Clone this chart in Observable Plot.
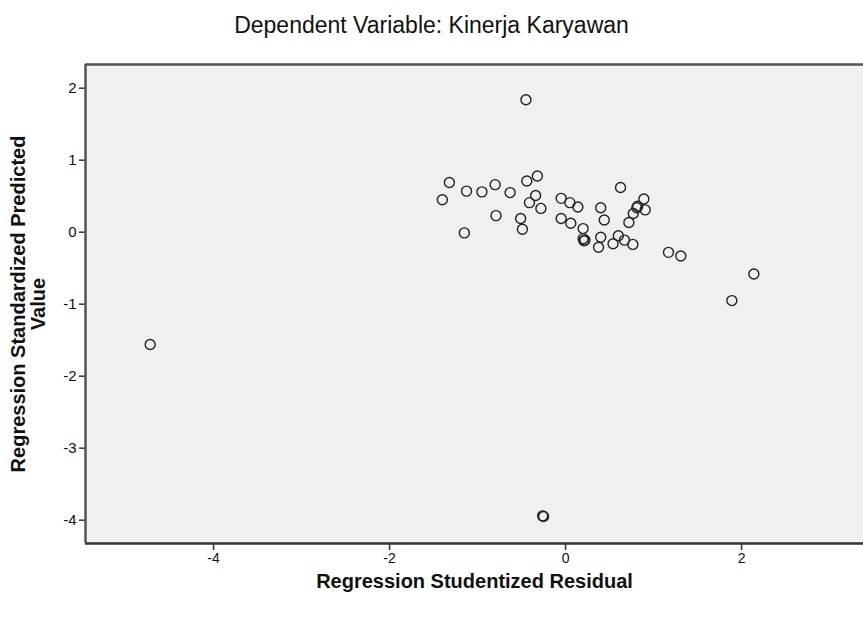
<!DOCTYPE html>
<html>
<head>
<meta charset="utf-8">
<script src="https://cdn.jsdelivr.net/npm/d3@7"></script>
<script src="https://cdn.jsdelivr.net/npm/@observablehq/plot@0.6"></script>
<style>
  html, body { margin: 0; padding: 0; background: #ffffff; }
  #title { width: 863px; height: 50px; line-height: 50px; text-align: center;
           font-family: "Liberation Sans", Arial, sans-serif;
           font-size: 23px; color: #111; }
  #chart svg { display: block; }
</style>
</head>
<body>
<div id="title"></div>
<div id="chart"></div>
<script>
const titleText = "Dependent Variable: Kinerja Karyawan";
const xLabel = "Regression Studentized Residual";
const yLabel = "Regression Standardized Predicted\nValue";

// Regression Studentized Residual
const residual = [-0.45, -1.32, -1.40, -1.125, -0.95, -0.80, -0.63, -0.44, -0.32, -0.34,
  -0.41, -0.28, -0.79, -0.51, -0.49, -1.15, -0.05, 0.05, 0.14, -0.05,
  0.06, 0.20, 0.20, 0.21, 0.22, 0.40, 0.44, 0.625, 0.40, 0.375,
  0.54, 0.60, 0.67, 0.765, 0.72, 0.77, 0.82, 0.81, 0.89, 0.905,
  1.17, 1.31, 2.14, 1.89, -4.72, -0.26, -0.25];
// Regression Standardized Predicted Value
const predicted = [1.84, 0.69, 0.45, 0.57, 0.56, 0.66, 0.55, 0.71, 0.78, 0.51,
  0.41, 0.33, 0.23, 0.19, 0.04, -0.01, 0.47, 0.41, 0.35, 0.19,
  0.125, 0.05, -0.09, -0.12, -0.11, 0.34, 0.17, 0.62, -0.07, -0.21,
  -0.16, -0.05, -0.11, -0.17, 0.135, 0.26, 0.36, 0.34, 0.46, 0.31,
  -0.28, -0.33, -0.58, -0.95, -1.56, -3.94, -3.95];

const xTicks = [-4, -2, 0, 2];
const yTicks = [-4, -3, -2, -1, 0, 1, 2];
const xDomain = [-5.455, 3.386];
const yDomain = [-4.324, 2.329];

document.getElementById("title").textContent = titleText;

const points = residual.map((r, i) => ({r, p: predicted[i]}));
const font = `"Liberation Sans", Arial, sans-serif`;
const fmt = d => String(d);

const chart = Plot.plot({
  width: 863,
  height: 573,
  marginLeft: 85,
  marginRight: 0,
  marginTop: 14,
  marginBottom: 80,
  style: {fontFamily: font, fontSize: "14px", color: "#111", background: "#ffffff"},
  x: {domain: xDomain},
  y: {domain: yDomain},
  marks: [
    Plot.frame({fill: "#f0f0f0", stroke: null}),
    Plot.axisX(xTicks, {tickSize: 7, tickPadding: 3, stroke: "#333", strokeWidth: 1.5, fontSize: 14, tickFormat: fmt, label: null}),
    Plot.axisY(yTicks, {tickSize: 6, tickPadding: 3, stroke: "#333", strokeWidth: 1.5, fontSize: 15, tickFormat: fmt, label: null}),
    Plot.ruleY([yDomain[1]], {stroke: "#555", strokeWidth: 2.5}),
    Plot.ruleY([yDomain[0]], {stroke: "#333", strokeWidth: 2.5}),
    Plot.ruleX([xDomain[0]], {stroke: "#555", strokeWidth: 2.5}),
    Plot.dot(points, {x: "r", y: "p", r: 5, stroke: "#222", strokeWidth: 1.4, fill: "none"}),
    Plot.text([xLabel], {frameAnchor: "bottom", dy: 44, text: d => d, fontSize: 20, fontWeight: "bold", fill: "#111"}),
    Plot.text([yLabel], {frameAnchor: "left", textAnchor: "middle", dx: -57, rotate: -90, text: d => d, fontSize: 20, fontWeight: "bold", fill: "#111", lineHeight: 1.0})
  ]
});
document.getElementById("chart").appendChild(chart);
</script>
</body>
</html>
